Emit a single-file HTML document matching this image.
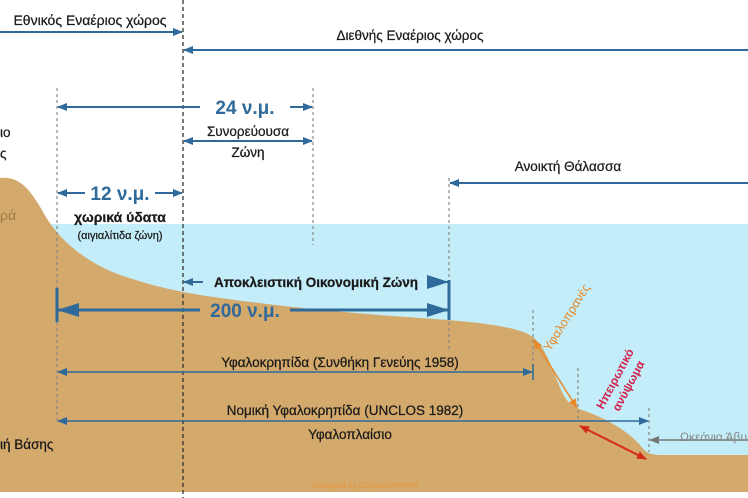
<!DOCTYPE html>
<html><head><meta charset="utf-8"><style>
html,body{margin:0;padding:0;background:#fff;width:748px;height:498px;overflow:hidden}
svg{display:block}
text{font-family:"Liberation Sans",sans-serif}
</style></head><body>
<svg width="748" height="498" viewBox="0 0 748 498" xmlns="http://www.w3.org/2000/svg">
<defs>
<marker id="a" markerWidth="10" markerHeight="8" refX="9" refY="4" orient="auto-start-reverse" markerUnits="userSpaceOnUse"><path d="M0,0 L10,4 L0,8 Z" fill="#2f6a9b"/></marker>
<marker id="b" markerWidth="22" markerHeight="14" refX="21" refY="7" orient="auto-start-reverse" markerUnits="userSpaceOnUse"><path d="M0,0 L22,7 L0,14 Z" fill="#2f6a9b"/></marker>
<marker id="g" markerWidth="10" markerHeight="8" refX="9" refY="4" orient="auto-start-reverse" markerUnits="userSpaceOnUse"><path d="M0,0 L10,4 L0,8 Z" fill="#777"/></marker>
<marker id="r" markerWidth="10" markerHeight="8" refX="9" refY="4" orient="auto-start-reverse" markerUnits="userSpaceOnUse"><path d="M0,0 L10,4 L0,8 Z" fill="#d42a1a"/></marker>
<marker id="o" markerWidth="10" markerHeight="8" refX="9" refY="4" orient="auto-start-reverse" markerUnits="userSpaceOnUse"><path d="M0,0 L10,4 L0,8 Z" fill="#e88a2a"/></marker>
</defs>
<rect x="0" y="224" width="748" height="268" fill="#c2edf9"/>
<path d="M0,178 C20,176 30,190 42,210 C55,235 80,260 120,275 C150,285 170,290 200,295 C260,304 330,312 420,318 C480,322 510,326 528,334 C545,342 552,370 562,392 C568,404 572,406 582,410 C600,416 625,428 640,445 C645,452 650,455 660,455 L748,455 L748,492 L0,492 Z" fill="#d4a96c"/>
<rect x="0" y="492" width="748" height="6" fill="#fff"/>
<g stroke-dasharray="3,3" stroke-width="1.2" stroke="#888">
<line x1="57" y1="88" x2="57" y2="422"/>
<line x1="313" y1="88" x2="313" y2="245"/>
<line x1="449" y1="178" x2="449" y2="350"/>
<line x1="533" y1="310" x2="533" y2="378"/>
<line x1="578" y1="368" x2="578" y2="420"/>
<line x1="649" y1="408" x2="649" y2="452"/>
</g>
<line x1="183" y1="0" x2="183" y2="498" stroke="#333" stroke-width="1.3" stroke-dasharray="4,3"/>
<g stroke="#2f6a9b" stroke-width="2" fill="none">
<line x1="0" y1="32" x2="182" y2="32" marker-end="url(#a)"/>
<line x1="184" y1="50" x2="748" y2="50" marker-start="url(#a)"/>
<line x1="58" y1="107" x2="200" y2="107" marker-start="url(#a)"/>
<line x1="290" y1="107" x2="312" y2="107" marker-end="url(#a)"/>
<line x1="184" y1="141" x2="312" y2="141" marker-start="url(#a)" marker-end="url(#a)"/>
<line x1="450" y1="183" x2="748" y2="183" marker-start="url(#a)"/>
<line x1="58" y1="193" x2="85" y2="193" marker-start="url(#a)"/>
<line x1="155" y1="193" x2="182" y2="193" marker-end="url(#a)"/>
<line x1="184" y1="282" x2="203" y2="282" marker-start="url(#a)"/>
<line x1="428" y1="282" x2="448" y2="282" marker-end="url(#b)"/>
<line x1="58" y1="310" x2="200" y2="310" marker-start="url(#b)" stroke-width="3"/>
<line x1="290" y1="310" x2="448" y2="310" marker-end="url(#b)" stroke-width="3"/>
<line x1="58" y1="372" x2="532" y2="372" marker-start="url(#a)" marker-end="url(#a)" stroke-width="1.5"/>
<line x1="58" y1="421" x2="648" y2="421" marker-start="url(#a)" marker-end="url(#a)" stroke-width="1.5"/>
</g>
<line x1="57" y1="288" x2="57" y2="322" stroke="#2f6a9b" stroke-width="3"/>
<line x1="449" y1="280" x2="449" y2="320" stroke="#2f6a9b" stroke-width="3"/>
<line x1="533" y1="364" x2="533" y2="380" stroke="#2f6a9b" stroke-width="1.5"/>
<line x1="650" y1="440" x2="748" y2="440" stroke="#777" stroke-width="1.5" marker-start="url(#g)"/>
<line x1="534" y1="340" x2="577" y2="408" stroke="#e88a2a" stroke-width="1.5" marker-start="url(#o)" marker-end="url(#o)"/>
<line x1="580" y1="426" x2="646" y2="459" stroke="#d42a1a" stroke-width="2" marker-start="url(#r)" marker-end="url(#r)"/>
<g fill="#1a1a1a" font-size="13.5" stroke="#1a1a1a" stroke-width="0.25">
<text x="90" y="25" text-anchor="middle" font-size="14">Εθνικός Εναέριος χώρος</text>
<text x="410" y="40" text-anchor="middle">Διεθνής Εναέριος χώρος</text>
<text x="0" y="137">ιο</text>
<text x="0" y="158">ς</text>
<text x="248" y="136" text-anchor="middle">Συνορεύουσα</text>
<text x="248" y="157" text-anchor="middle">Ζώνη</text>
<text x="568" y="171" text-anchor="middle">Ανοικτή Θάλασσα</text>
<text x="120" y="222" text-anchor="middle" font-size="14" font-weight="bold">χωρικά ύδατα</text>
<text x="120" y="239" text-anchor="middle" font-size="11">(αιγιαλίτιδα ζώνη)</text>
<text x="316" y="287" text-anchor="middle" font-weight="bold">Αποκλειστική Οικονομική Ζώνη</text>
<text x="340" y="367" text-anchor="middle">Υφαλοκρηπίδα (Συνθήκη Γενεύης 1958)</text>
<text x="345" y="415" text-anchor="middle">Νομική Υφαλοκρηπίδα (UNCLOS 1982)</text>
<text x="350" y="439" text-anchor="middle">Υφαλοπλαίσιο</text>
<text x="0" y="449">ιή Βάσης</text>
</g>
<text x="0" y="220" font-size="14" fill="#a07a45">ρά</text>
<g fill="#2f6a9b" font-weight="bold" font-size="19">
<text x="245" y="114" text-anchor="middle">24 ν.μ.</text>
<text x="120" y="200" text-anchor="middle">12 ν.μ.</text>
<text x="245" y="317" text-anchor="middle">200 ν.μ.</text>
</g>
<text x="680" y="441" font-size="12" fill="#888">Ωκεάνια Άβυ</text>
<text transform="translate(550,352) rotate(-58)" font-size="12.5" fill="#e88a2a">Υφαλοπρανές</text>
<text transform="translate(603,410) rotate(-62)" font-size="12" font-weight="bold" fill="#d4204a">Ηπειρωτικό</text>
<text transform="translate(619,412) rotate(-62)" font-size="12" font-weight="bold" fill="#d4204a">ανύψωμα</text>
<text x="365" y="488" text-anchor="middle" font-size="8" font-style="italic" fill="#e8953a">Designed by CompuGRAPHS</text>
</svg>
</body></html>
